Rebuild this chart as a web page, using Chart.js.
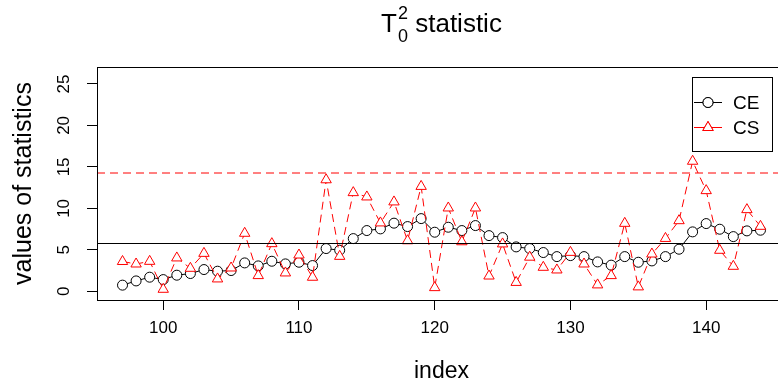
<!DOCTYPE html>
<html>
<head>
<meta charset="utf-8">
<script src="https://cdn.jsdelivr.net/npm/chart.js@4/dist/chart.umd.min.js"></script>
<style>
html, body { margin: 0; padding: 0; background: #fff; overflow: hidden; }
</style>
</head>
<body>
<canvas id="t2Chart" width="800" height="387"></canvas>
<script>
// index of the observations
const indexes = [97, 98, 99, 100, 101, 102, 103, 104, 105, 106, 107, 108, 109, 110, 111, 112,
    113, 114, 115, 116, 117, 118, 119, 120, 121, 122, 123, 124, 125, 126, 127, 128,
    129, 130, 131, 132, 133, 134, 135, 136, 137, 138, 139, 140, 141, 142, 143, 144];

// CE statistic
const ceValues = [0.75, 1.26, 1.71, 1.42, 1.95, 2.15, 2.63, 2.43, 2.51, 3.43, 3.07, 3.63, 3.31, 3.51, 3.11, 5.16,
    4.96, 6.36, 7.33, 7.53, 8.22, 7.81, 8.77, 7.13, 7.73, 7.33, 7.93, 6.72, 6.48, 5.36, 5.16, 4.68,
    4.19, 4.31, 4.19, 3.55, 3.16, 4.19, 3.51, 3.67, 4.19, 5.08, 7.17, 8.17, 7.49, 6.60, 7.29, 7.37];

// CS statistic
const csValues = [3.60, 3.30, 3.62, 0.25, 4.03, 2.78, 4.58, 1.50, 2.82, 7.00, 1.90, 5.75, 2.22, 4.38, 1.70, 13.45,
    4.22, 11.90, 11.38, 8.25, 10.78, 6.10, 12.65, 0.45, 10.05, 5.98, 10.05, 1.85, 5.72, 1.08, 4.12, 2.90,
    2.58, 4.70, 3.30, 0.78, 1.90, 8.20, 0.54, 4.50, 6.38, 8.52, 15.68, 12.14, 4.95, 3.02, 9.85, 7.84];

// control limits
const ceLimit = 5.81;
const csLimit = 14.31;

const xTicks = [100, 110, 120, 130, 140];
const yTicks = [0, 5, 10, 15, 20, 25];

const toPoints = (vals) => indexes.map((x, i) => ({ x: x, y: vals[i] }));

const FONT = 'Liberation Sans, Arial, Helvetica, sans-serif';

function hLine(ctx, a, py, color, dash) {
    ctx.save();
    ctx.lineWidth = 1;
    ctx.strokeStyle = color;
    ctx.setLineDash(dash);
    ctx.beginPath();
    ctx.moveTo(a.left, py);
    ctx.lineTo(a.right, py);
    ctx.stroke();
    ctx.restore();
}

// Titulo, caixa, limites, legenda e rótulos do eixo y
const extras = {
    id: 'extras',
    afterDatasetsDraw(chart) {
        const { ctx, chartArea: a, scales: { y } } = chart;
        hLine(ctx, a, Math.round(y.getPixelForValue(ceLimit)) + 0.5, '#000', []);
        hLine(ctx, a, Math.round(y.getPixelForValue(csLimit)), '#ff0000', [8, 5]);
    },
    afterDraw(chart) {
        const { ctx, chartArea: a, scales: { y } } = chart;
        ctx.save();
        // box
        ctx.strokeStyle = '#000';
        ctx.lineWidth = 1;
        ctx.setLineDash([]);
        ctx.strokeRect(Math.round(a.left) + 0.5, Math.round(a.top) + 0.5,
            Math.round(a.right - a.left), Math.round(a.bottom - a.top));

        // y tick labels, rotated like R
        ctx.fillStyle = '#000';
        ctx.font = '17px ' + FONT;
        ctx.textAlign = 'center';
        ctx.textBaseline = 'middle';
        y.ticks.forEach(t => {
            const py = y.getPixelForValue(t.value);
            ctx.save();
            ctx.translate(64, py);
            ctx.rotate(-Math.PI / 2);
            ctx.fillText(String(t.value), 0, 0);
            ctx.restore();
        });

        // title T_0^2 statistic
        ctx.textAlign = 'left';
        ctx.textBaseline = 'alphabetic';
        const big = '26px ' + FONT, small = '18px ' + FONT;
        ctx.font = big;
        const wT = ctx.measureText('T').width;
        const wStat = ctx.measureText(' statistic').width;
        ctx.font = small;
        const wS = Math.max(ctx.measureText('0').width, ctx.measureText('2').width);
        const total = wT + 1 + wS + wStat;
        let x0 = (a.left + a.right) / 2 - total / 2;
        ctx.font = big;
        ctx.fillText('T', x0, 32);
        ctx.font = small;
        ctx.fillText('2', x0 + wT + 1, 19);
        ctx.fillText('0', x0 + wT + 1, 41.5);
        ctx.font = big;
        ctx.fillText(' statistic', x0 + wT + 1 + wS, 32);

        // legend
        const lx = 692.5, ly = 77.5, lw = 80, lh = 74;
        ctx.fillStyle = '#fff';
        ctx.fillRect(lx, ly, lw, lh);
        ctx.strokeStyle = '#000';
        ctx.strokeRect(lx, ly, lw, lh);
        const rows = [
            { label: 'CE', color: '#000', y: 102.5, style: 'circle' },
            { label: 'CS', color: '#ff0000', y: 127.5, style: 'triangle' }
        ];
        rows.forEach(r => {
            ctx.strokeStyle = r.color;
            ctx.beginPath(); ctx.moveTo(694, r.y); ctx.lineTo(722, r.y); ctx.stroke();
            Chart.helpers.drawPoint(ctx, {
                pointStyle: r.style, radius: r.style === 'circle' ? 5 : 6, borderWidth: 1
            }, 708, r.y);
            ctx.fillStyle = '#fff';
            ctx.fill();
            ctx.stroke();
            ctx.fillStyle = '#000';
            ctx.font = '19px ' + FONT;
            ctx.textBaseline = 'middle';
            ctx.fillText(r.label, 733, r.y + 1);
        });
        ctx.restore();
    }
};

new Chart(document.getElementById('t2Chart').getContext('2d'), {
    type: 'line',
    data: {
        datasets: [{
            label: 'CE',
            data: toPoints(ceValues),
            borderColor: '#000',
            borderWidth: 1,
            pointStyle: 'circle',
            pointRadius: 5,
            pointBorderWidth: 1,
            pointBorderColor: '#000',
            pointBackgroundColor: '#fff',
            tension: 0,
            order: 1
        }, {
            label: 'CS',
            data: toPoints(csValues),
            borderColor: '#ff0000',
            borderWidth: 1,
            borderDash: [8, 5],
            pointStyle: 'triangle',
            pointRadius: 6,
            pointBorderWidth: 1,
            pointBorderColor: '#ff0000',
            pointBackgroundColor: '#fff',
            tension: 0,
            order: 0
        }]
    },
    options: {
        responsive: false,
        animation: false,
        devicePixelRatio: 1,
        layout: { padding: { top: 67, right: 14, left: 0, bottom: 0 } },
        plugins: {
            legend: { display: false },
            tooltip: { enabled: false }
        },
        scales: {
            x: {
                type: 'linear',
                min: 95.12,
                max: 145.88,
                afterFit: s => { s.height = 87; },
                afterBuildTicks: s => { s.ticks = xTicks.map(v => ({ value: v })); },
                ticks: {
                    includeBounds: false,
                    color: '#000',
                    font: { family: FONT, size: 17 },
                    padding: 8,
                    maxRotation: 0
                },
                grid: { drawOnChartArea: false, tickLength: 10, tickColor: '#000' },
                border: { display: false },
                title: {
                    display: true,
                    text: 'index',
                    color: '#000',
                    font: { family: FONT, size: 23 },
                    padding: { top: 0, bottom: 2 }
                }
            },
            y: {
                type: 'linear',
                min: -1.04,
                max: 27.04,
                afterFit: s => { s.width = 97; },
                afterBuildTicks: s => { s.ticks = yTicks.map(v => ({ value: v })); },
                ticks: { display: false },
                grid: { drawOnChartArea: false, tickLength: 10, tickColor: '#000' },
                border: { display: false },
                title: {
                    display: true,
                    text: 'values of statistics',
                    color: '#000',
                    font: { family: FONT, size: 25 },
                    padding: { top: 9, bottom: 0 }
                }
            }
        }
    },
    plugins: [extras]
});
</script>
</body>
</html>
